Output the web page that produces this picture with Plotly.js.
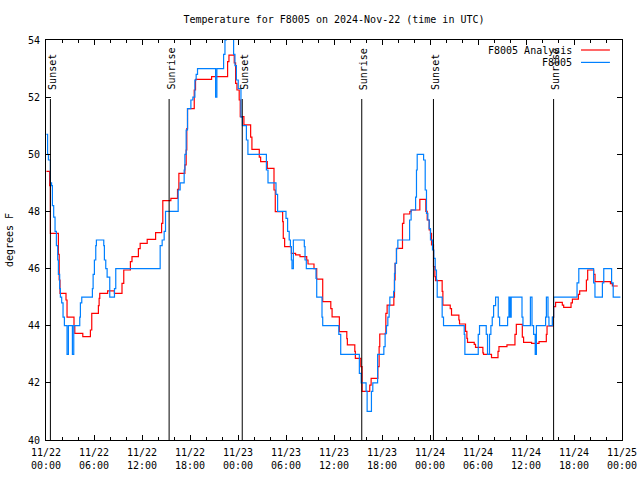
<!DOCTYPE html>
<html>
<head>
<meta charset="utf-8">
<script src="https://cdn.plot.ly/plotly-3.0.1.min.js"></script>
<style>html,body{margin:0;padding:0;background:#fff;}#chart{width:640px;height:480px;}</style>
</head>
<body>
<div id="chart"></div>
<script>
// Hours since 2024-11-22 00:00 UTC and temperature (deg F)
const analysisHours = [0.05,0.46,0.55,1.55,1.65,1.75,2.5,2.63,3.5,3.6,4.6,5.55,5.72,6.55,6.64,6.72,7.7,8.55,9.5,9.72,10.55,10.75,11.55,11.77,12.65,13.7,14.45,14.6,15.61,16.44,16.61,17.36,17.52,17.6,17.69,18.53,18.69,20.7,22.7,22.87,23.53,23.7,23.87,24.15,24.28,24.74,25.58,25.74,26.66,26.83,27.66,28.5,28.66,29.58,29.66,29.83,30.67,31.2,31.75,32.59,32.75,33.5,33.84,34.59,35.6,35.76,36.67,37.6,37.67,38.6,38.67,39.35,39.51,40.47,40.64,41.48,41.64,41.72,42.48,42.64,43.48,43.56,43.64,43.81,44.56,44.73,45.48,45.64,46.73,47.48,47.65,47.9,48.06,48.19,48.44,48.61,48.69,49.52,49.61,50.53,50.69,51.61,51.69,52.44,52.61,52.69,53.53,53.69,54.61,54.69,55.69,56.5,56.62,57.62,58.62,58.79,59.54,59.7,60.7,61.63,62.54,62.63,63.38,63.45,63.7,64.54,64.71,65.63,65.8,66.55,66.71,67.55,67.71,68.46,68.63,70.55,70.8,71.47];
const analysisTemp = [49.4,48.9,47.23,46.5,45.6,45.13,44.9,44.3,44.0,43.73,43.62,43.85,44.43,44.7,44.96,45.13,45.22,45.13,45.48,45.95,46.24,46.42,46.7,46.88,47.02,47.26,47.58,48.38,48.46,48.77,49.33,49.63,50.15,50.9,51.6,52.25,52.62,52.72,53.24,53.47,53.2,52.48,52.25,51.9,51.32,51.03,50.6,50.17,49.9,49.74,49.51,48.75,47.99,47.64,47.06,46.77,46.53,46.48,46.42,46.3,46.16,46.0,45.63,44.84,44.6,44.31,43.79,43.55,43.33,43.1,42.86,42.57,41.7,41.92,42.16,42.57,43.27,43.71,44.43,44.72,45.0,45.6,46.18,46.71,47.58,47.91,47.99,48.05,48.42,48.0,47.7,47.35,47.23,46.83,46.07,45.72,45.58,45.2,44.72,44.6,44.37,44.2,44.06,43.8,43.56,43.42,43.35,43.24,43.05,43.0,42.88,43.1,43.27,43.33,43.7,44.05,43.6,43.42,43.38,43.44,43.7,43.99,44.3,44.67,44.82,44.72,44.64,44.8,44.93,45.1,45.22,45.6,45.95,45.8,45.54,45.47,45.39,45.39];

const obsHours = [0.05,0.2,0.3,0.55,0.7,0.8,0.96,1.13,1.3,1.46,1.55,1.71,1.8,1.96,2.13,2.3,2.63,2.8,3.3,3.47,4.22,4.3,4.47,5.8,5.89,6.05,6.22,6.3,7.22,7.3,7.47,7.64,7.97,8.56,8.72,14.27,14.52,14.77,14.94,16.52,16.77,17.27,17.36,17.52,17.69,18.11,18.36,18.61,18.77,18.94,21.2,21.36,22.2,22.37,22.53,23.45,23.62,23.8,24.03,24.37,24.55,25.05,25.24,27.55,27.75,28.75,28.95,30.0,30.2,30.4,30.55,30.67,30.75,30.92,32.29,32.38,32.54,33.75,33.84,34.5,34.59,36.6,36.84,39.17,39.4,40.01,40.14,40.68,40.85,41.45,42.23,42.39,42.56,42.73,42.89,42.98,43.45,43.56,43.64,43.81,43.98,45.45,45.64,46.2,46.31,46.4,47.2,47.4,47.56,47.73,47.9,48.06,48.31,48.48,48.65,48.81,48.9,49.52,49.69,52.28,52.36,54.03,54.19,55.03,55.19,55.44,55.61,55.78,55.95,56.2,56.53,56.7,57.7,57.87,58.0,58.15,59.5,59.62,60.55,60.75,60.95,61.15,61.3,62.45,62.55,62.75,62.87,63.29,63.45,66.38,66.6,68.45,68.62,69.55,69.72,70.7,70.9,71.8];
const obsTemp = [50.7,50.0,49.8,49.0,48.9,48.2,47.8,47.3,46.8,46.3,45.8,45.3,45.0,44.8,44.3,44.0,43.0,44.0,43.0,44.0,44.3,44.8,45.0,45.3,45.8,46.3,46.8,47.0,46.8,46.3,46.0,45.7,45.0,45.3,46.0,46.8,47.0,47.3,48.0,48.75,49.0,49.45,50.0,50.85,51.6,51.9,52.0,52.6,52.8,53.0,52.0,53.0,53.5,54.0,54.6,53.5,53.1,52.6,52.3,51.3,51.0,50.5,50.0,49.45,49.0,48.6,48.0,47.76,47.3,47.0,46.77,46.3,46.0,47.0,46.77,46.3,46.0,45.66,45.0,44.3,44.0,43.7,43.0,42.33,42.0,41.7,41.0,41.7,42.0,43.0,43.27,43.73,44.0,44.3,44.7,45.0,45.2,45.83,46.18,46.7,47.0,47.7,48.05,48.5,49.45,50.0,49.8,48.75,47.93,47.7,47.4,47.0,46.65,46.36,45.95,45.6,45.0,44.3,44.0,43.7,43.0,43.7,44.0,43.7,43.0,43.7,44.0,44.3,44.7,45.0,44.3,44.0,44.3,45.0,44.3,45.0,44.3,44.0,45.0,44.0,43.7,43.0,44.0,44.3,45.0,44.3,44.0,44.3,45.0,45.5,46.0,45.5,45.0,45.5,46.0,45.5,45.0,45.0];

const sunHours = [0.55,15.39,24.53,39.47,48.43,63.45];
const sunLabels = ["Sunset","Sunrise","Sunset","Sunrise","Sunset","Sunrise"];

const seriesNames = ["F8005 Analysis","F8005"];
const seriesColors = ["#ff0000","#0080ff"];
const yTicks = [40,42,44,46,48,50,52,54];

const FONT = "DejaVu Sans Mono, monospace";
const base = Date.UTC(2024,10,22);
const toDate = h => base + h*3600000;

const traces = [
  {x: analysisHours.map(toDate), y: analysisTemp, name: seriesNames[0], mode:'lines',
   line:{shape:'hv', color:seriesColors[0], width:1.2}, hoverinfo:'skip'},
  {x: obsHours.map(toDate), y: obsTemp, name: seriesNames[1], mode:'lines',
   line:{shape:'hv', color:seriesColors[1], width:1.2}, hoverinfo:'skip'}
];

const shapes = [];
const annotations = [];
sunHours.forEach((h,i)=>{
  shapes.push({type:'line', xref:'x', yref:'paper', x0:toDate(h), x1:toDate(h), y0:0, y1:0.8525,
    line:{color:'#000', width:1}});
  annotations.push({xref:'x', yref:'paper', x:toDate(h), y:0.87, xanchor:'center', yanchor:'bottom',
    xshift:1.5, text:sunLabels[i], textangle:-90, showarrow:false, font:{family:FONT, size:10, color:'#000'}});
});
// legend (gnuplot style: text then line sample)
const legY = [0.975, 0.944];
seriesNames.forEach((n,i)=>{
  annotations.push({xref:'paper', yref:'paper', x:0.9167, y:legY[i], xanchor:'right', yanchor:'middle',
    text:n, showarrow:false, font:{family:FONT, size:10, color:'#000'}});
  shapes.push({type:'line', xref:'paper', yref:'paper', x0:0.9288, x1:0.979, y0:legY[i], y1:legY[i],
    line:{color:seriesColors[i], width:1.2}});
});

const layout = {
  width:640, height:480,
  margin:{l:46, r:18, t:40, b:40},
  paper_bgcolor:'#fff', plot_bgcolor:'#fff',
  showlegend:false,
  font:{family:FONT, size:10, color:'#000'},
  title:{text:'Temperature for F8005 on 2024-Nov-22 (time in UTC)', font:{family:FONT, size:10, color:'#000'},
    xref:'paper', x:0.5, xanchor:'center', y:0.96, yanchor:'middle'},
  xaxis:{type:'date', range:[toDate(0), toDate(72)], tick0:toDate(0), dtick:6*3600000,
    tickformat:'%m/%d<br>%H:%M', ticks:'inside', ticklen:5, tickcolor:'#000', tickwidth:1,
    showline:true, linecolor:'#000', linewidth:1, mirror:'allticks', showgrid:false, zeroline:false,
    ticklabelstandoff:3,
    minor:{dtick:2*3600000, ticks:'inside', ticklen:3, tickcolor:'#000', showgrid:false},
    tickfont:{family:FONT, size:10, color:'#000'}, fixedrange:true},
  yaxis:{range:[40,54], tickvals:yTicks, ticktext:yTicks.map(String), ticks:'inside', ticklen:5, tickcolor:'#000',
    showline:true, linecolor:'#000', linewidth:1, mirror:'allticks', showgrid:false, zeroline:false,
    ticklabelstandoff:3,
    tickfont:{family:FONT, size:10, color:'#000'},
    title:{text:'degrees F', font:{family:FONT, size:10, color:'#000'}, standoff:12}, fixedrange:true},
  shapes:shapes,
  annotations:annotations
};

Plotly.newPlot('chart', traces, layout, {staticPlot:true, displayModeBar:false});
</script>
</body>
</html>
